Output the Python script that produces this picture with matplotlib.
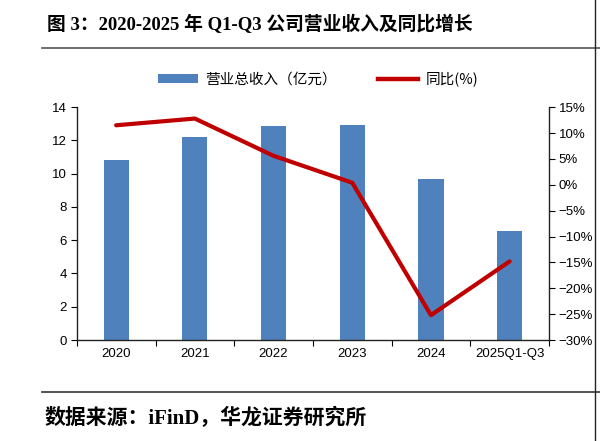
import matplotlib
matplotlib.use("Agg")
import matplotlib.pyplot as plt
from matplotlib.ticker import FuncFormatter, FixedLocator
from matplotlib.lines import Line2D
from matplotlib.patches import Patch
import numpy as np

plt.rcParams['font.family'] = ['Liberation Sans', 'Noto Sans CJK SC', 'DejaVu Sans']

categories = ["2020", "2021", "2022", "2023", "2024", "2025Q1-Q3"]
revenue = [10.82, 12.2, 12.86, 12.93, 9.67, 6.55]
growth = [11.5, 12.8, 5.6, 0.4, -25.2, -14.8]
left_ticks = [0, 2, 4, 6, 8, 10, 12, 14]
right_ticks = [-30, -25, -20, -15, -10, -5, 0, 5, 10, 15]

title = "图 3：2020-2025 年 Q1-Q3 公司营业收入及同比增长"
source = "数据来源：iFinD，华龙证券研究所"
bar_label = "营业总收入（亿元）"
line_label = "同比(%)"

bar_color = "#4F81BD"
line_color = "#C00000"

fig = plt.figure(figsize=(6, 4.41), dpi=100)
ax = fig.add_axes([0.128, 0.229, 0.787, 0.528])
x = np.arange(len(categories))
ax.bar(x, revenue, width=0.32, color=bar_color, zorder=2)
ax.set_ylim(0, 14)
ax.set_xlim(-0.5, len(categories) - 0.5)
ax.set_yticks(left_ticks)
ax.tick_params(axis='y', direction='out', length=4, labelsize=9.5, pad=3)
ax.xaxis.set_major_locator(FixedLocator(np.arange(-0.5, len(categories), 1.0)))
ax.xaxis.set_major_formatter(FuncFormatter(lambda v, p: ""))
ax.xaxis.set_minor_locator(FixedLocator(x))
ax.set_xticklabels(categories, minor=True)
ax.tick_params(axis='x', which='major', direction='out', length=4)
ax.tick_params(axis='x', which='minor', length=0, labelsize=9.5, pad=6)
ax.spines['top'].set_visible(False)
ax.spines['right'].set_visible(False)
for s in ['left', 'bottom']:
    ax.spines[s].set_linewidth(1.0)
    ax.spines[s].set_color('#222222')

ax2 = ax.twinx()
ax2.plot(x, growth, color=line_color, linewidth=3.0, solid_capstyle='round', zorder=3)
ax2.set_ylim(-30, 15)
ax2.set_yticks(right_ticks)
ax2.yaxis.set_major_formatter(FuncFormatter(lambda v, p: (f"{int(v)}%" if v >= 0 else f"\u2212{int(-v)}%")))
ax2.tick_params(axis='y', direction='out', length=4, labelsize=9.5, pad=3)
for s in ['top', 'left', 'bottom']:
    ax2.spines[s].set_visible(False)
ax2.spines['right'].set_linewidth(1.0)
ax2.spines['right'].set_color('#222222')

handles = [Patch(facecolor=bar_color, edgecolor='none'),
           Line2D([0], [0], color=line_color, linewidth=3.2)]
fig.legend(handles, [bar_label, line_label], loc='center', bbox_to_anchor=(0.53, 1 - 79/441),
           ncol=2, frameon=False, handlelength=2.75, handleheight=0.55,
           columnspacing=2.8, handletextpad=0.5,
           prop={'family': ['Noto Sans CJK SC', 'DejaVu Sans'], 'size': 10.5})

fig.text(0.078, 1 - 24/441, title, fontsize=13.5, fontweight='bold', va='center', ha='left',
         family=['Liberation Serif', 'Noto Sans CJK SC', 'DejaVu Sans'])
fig.add_artist(Line2D([0.07, 1.0], [1 - 48/441, 1 - 48/441], color='#555555', linewidth=1.2))
fig.add_artist(Line2D([0.07, 1.0], [1 - 392/441, 1 - 392/441], color='#333333', linewidth=1.2))
fig.text(0.075, 1 - 418/441, source, fontsize=15, fontweight='bold', va='center', ha='left',
         family=['Liberation Serif', 'Noto Sans CJK SC', 'DejaVu Sans'])
fig.add_artist(Line2D([595/600, 595/600], [1.0, 0.0], color='#222222', linewidth=1.0))

fig.savefig("out.png", dpi=100)
